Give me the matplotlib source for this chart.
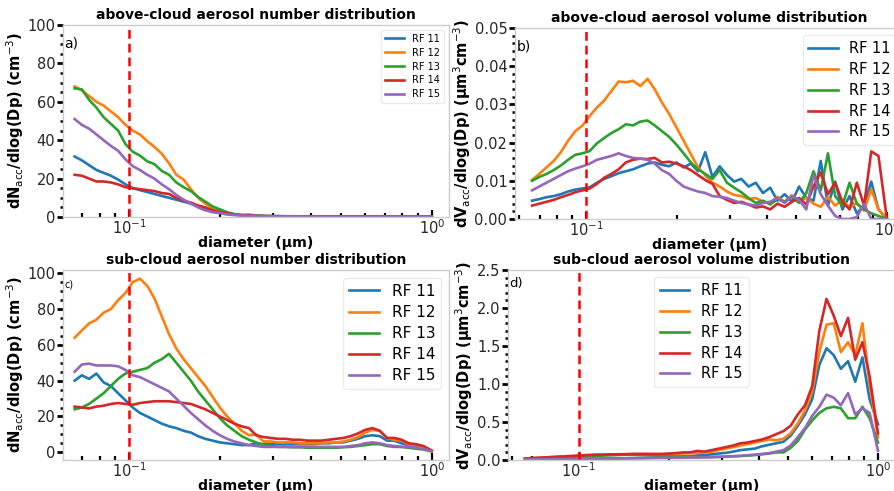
import matplotlib
matplotlib.use("Agg")
import matplotlib.pyplot as plt
from matplotlib.ticker import AutoMinorLocator

# bin diameters (um)
dp = [0.0661, 0.0698, 0.0738, 0.0780, 0.0824, 0.0871, 0.0920, 0.0973, 0.1028, 0.1086,
      0.1148, 0.1213, 0.1282, 0.1355, 0.1432, 0.1514, 0.1600, 0.1690, 0.1786, 0.1888,
      0.1995, 0.2109, 0.2228, 0.2355, 0.2489, 0.2630, 0.2780, 0.2938, 0.3105, 0.3281,
      0.3467, 0.3664, 0.3873, 0.4093, 0.4325, 0.4571, 0.4831, 0.5105, 0.5395, 0.5702,
      0.6026, 0.6368, 0.6730, 0.7112, 0.7516, 0.7943, 0.8395, 0.8872, 0.9376, 1.0]

flights = ["RF 11", "RF 12", "RF 13", "RF 14", "RF 15"]

# a) above-cloud number
num_above_rf11 = [31.5, 29.5, 27, 24.5, 23, 21.5, 19.5, 17, 15, 14, 13, 12, 11, 10, 9, 8, 7, 5.5, 4.5, 3.5,
                  2.5, 1.8, 1.3, 1, 1.2, 0.8, 0.6, 0.5, 0.5, 0.4, 0.4, 0.3, 0.3, 0.3, 0.3, 0.2, 0.2, 0.2, 0.2, 0.2,
                  0.2, 0.2, 0.2, 0.2, 0.1, 0.1, 0.1, 0.1, 0.1, 0.1]
num_above_rf12 = [68, 66, 63, 60, 58, 55, 52, 48, 45, 43, 39.5, 36.5, 33, 28, 22, 19.5, 14.5, 10, 7, 4.5,
                  3, 2, 1.3, 1, 0.7, 0.5, 0.4, 0.4, 0.3, 0.3, 0.3, 0.3, 0.2, 0.2, 0.2, 0.2, 0.2, 0.2, 0.2, 0.2,
                  0.2, 0.2, 0.2, 0.2, 0.1, 0.1, 0.1, 0.1, 0.1, 0.1]
num_above_rf13 = [67, 66.5, 61, 57, 52, 48.5, 45, 38, 34, 32, 29, 27.5, 24, 22, 18, 15.5, 13.5, 10.5, 8, 5.5,
                  4, 2.5, 1.5, 1, 0.8, 0.6, 0.5, 0.4, 0.4, 0.3, 0.3, 0.3, 0.2, 0.2, 0.2, 0.2, 0.2, 0.2, 0.2, 0.2,
                  0.2, 0.2, 0.2, 0.2, 0.1, 0.1, 0.1, 0.1, 0.1, 0.1]
num_above_rf14 = [22, 21.5, 20, 18.5, 18.5, 18, 17, 15.5, 15, 14.5, 14, 13.5, 12.5, 12, 10, 8.5, 7.5, 6, 5, 3.5,
                  2.5, 1.8, 1.2, 0.9, 0.7, 0.5, 0.4, 0.4, 0.3, 0.3, 0.3, 0.3, 0.2, 0.2, 0.2, 0.2, 0.2, 0.2, 0.2, 0.2,
                  0.2, 0.2, 0.2, 0.2, 0.1, 0.1, 0.1, 0.1, 0.1, 0.1]
num_above_rf15 = [51, 48, 46, 43, 40, 37, 34.5, 30, 26.5, 24.5, 22, 20, 17, 14.5, 11.5, 9, 7, 5, 3.5, 2.5,
                  2, 1.3, 1, 0.8, 0.6, 0.5, 0.4, 0.4, 0.3, 0.3, 0.3, 0.3, 0.2, 0.2, 0.2, 0.2, 0.2, 0.2, 0.2, 0.2,
                  0.2, 0.2, 0.2, 0.2, 0.1, 0.1, 0.1, 0.1, 0.1, 0.1]

# b) above-cloud volume
vol_above_rf11 = [0.0048, 0.0052, 0.0057, 0.006, 0.0065, 0.0072, 0.0077, 0.008, 0.0083, 0.0095,
                  0.0105, 0.0112, 0.012, 0.0125, 0.013, 0.0138, 0.0145, 0.0148, 0.0142, 0.0138,
                  0.0148, 0.0135, 0.0145, 0.0125, 0.0175, 0.011, 0.0138, 0.0115, 0.0098, 0.0105,
                  0.0085, 0.0095, 0.0068, 0.0082, 0.0048, 0.0065, 0.0045, 0.0085, 0.0055, 0.0048,
                  0.0152, 0.0035, 0.0098, 0.0025, 0.006, 0.0015, 0.0035, 0.0098, 0.0025, 0.0]
vol_above_rf12 = [0.0102, 0.0118, 0.0135, 0.0152, 0.0175, 0.0205, 0.023, 0.0245, 0.027, 0.0292,
                  0.031, 0.0335, 0.036, 0.0358, 0.0362, 0.0348, 0.0367, 0.034, 0.0305, 0.0275,
                  0.024, 0.0205, 0.017, 0.0135, 0.0115, 0.0095, 0.0085, 0.0072, 0.0063, 0.006,
                  0.0052, 0.0055, 0.0045, 0.0042, 0.0058, 0.0045, 0.0062, 0.0048, 0.0055, 0.004,
                  0.0032, 0.0058, 0.0035, 0.005, 0.003, 0.0042, 0.0022, 0.0078, 0.0025, 0.0]
vol_above_rf13 = [0.010, 0.011, 0.0118, 0.0128, 0.014, 0.0155, 0.0168, 0.0172, 0.0178, 0.0198,
                  0.0212, 0.0225, 0.0235, 0.0248, 0.0245, 0.0255, 0.0258, 0.0245, 0.023, 0.0215,
                  0.0195, 0.0172, 0.0148, 0.013, 0.0118, 0.0105, 0.0128, 0.0095, 0.0082, 0.007,
                  0.0055, 0.0042, 0.0048, 0.0038, 0.0052, 0.0045, 0.0058, 0.0042, 0.0068, 0.0125,
                  0.0075, 0.0172, 0.006, 0.0035, 0.0095, 0.004, 0.0025, 0.0015, 0.0008, 0.0]
vol_above_rf14 = [0.0035, 0.004, 0.0045, 0.005, 0.0057, 0.0063, 0.007, 0.0075, 0.008, 0.0092,
                  0.0108, 0.0118, 0.013, 0.0148, 0.0155, 0.0158, 0.0157, 0.016, 0.0148, 0.015,
                  0.0145, 0.0138, 0.0128, 0.0115, 0.0102, 0.0092, 0.006, 0.005, 0.0042, 0.0045,
                  0.0038, 0.003, 0.0033, 0.0025, 0.004, 0.0032, 0.0045, 0.0055, 0.0038, 0.0085,
                  0.0122, 0.0065, 0.0095, 0.0045, 0.0025, 0.0095, 0.0035, 0.0177, 0.0165, 0.0]
vol_above_rf15 = [0.0075, 0.0085, 0.0095, 0.0105, 0.0115, 0.0125, 0.0132, 0.0138, 0.0145, 0.0155,
                  0.016, 0.0165, 0.0172, 0.0165, 0.016, 0.0158, 0.0155, 0.0145, 0.0128, 0.0118,
                  0.01, 0.0085, 0.0078, 0.0072, 0.0068, 0.006, 0.0058, 0.0055, 0.0048, 0.0042,
                  0.0038, 0.0035, 0.0042, 0.0045, 0.0055, 0.0042, 0.006, 0.005, 0.0025, 0.0115,
                  0.0065, 0.0035, 0.0008, 0.0, 0.0, 0.0005, 0.004, 0.0, 0.0, 0.0]

# c) sub-cloud number
num_sub_rf11 = [40, 43, 41, 44, 39, 37, 33, 29, 25, 22, 20, 18, 16, 14.5, 13.5, 12, 11, 9, 7.5, 6.5,
                5.5, 5, 4.5, 4, 4, 5, 4.5, 4.5, 4.5, 4.5, 4.5, 4.5, 4.5, 4.5, 5, 5, 5.5, 5.5, 6.5, 7.5,
                9, 9.5, 9, 6.5, 6.5, 5, 4, 3.5, 3, 0.5]
num_sub_rf12 = [64, 68, 72, 74, 78, 80, 85, 89, 95, 97, 93, 86, 76, 66, 58, 52, 47, 42, 37, 31,
                25, 20, 16, 12, 9.5, 10, 6, 6, 5.5, 5.5, 5.5, 5, 5, 5, 5, 5.5, 5.5, 6, 7, 8.5,
                11, 12.5, 12, 8, 7, 6.5, 4.5, 4, 3, 0.5]
num_sub_rf13 = [24, 25, 27, 30, 33, 37, 41, 44, 45, 46, 47, 50, 52, 55, 50, 45, 40, 34, 29, 24,
                19, 15, 12, 9, 7, 5.5, 4, 3.5, 3, 3, 2.8, 2.8, 2.5, 2.5, 2.5, 2.5, 2.5, 2.8, 3, 3.5,
                4, 4.5, 4.5, 3.5, 3, 3, 2.5, 2, 1.5, 0.5]
num_sub_rf14 = [25.5, 25, 24.5, 25.5, 26, 27, 27.5, 27, 26.5, 27.5, 28, 28.5, 28.5, 28.5, 28, 27.5, 27, 25.5, 24, 22,
                20, 18, 16, 14.5, 13.5, 9.5, 8.5, 8, 7.5, 7.5, 7, 7, 6.5, 6.5, 6.5, 7, 7.5, 8, 9, 10.5,
                12.5, 13.5, 12, 8, 8, 7, 5, 4.5, 3.5, 1]
num_sub_rf15 = [45, 49, 49.5, 48.5, 48.5, 48.5, 48, 46, 43, 42, 40, 38, 36, 34, 30, 26, 22, 18.5, 15, 12,
                9.5, 7.5, 6, 5, 4, 3.5, 3, 3, 3, 3, 3, 3, 3, 3, 3, 3, 3, 3, 3.5, 4,
                5, 5.5, 5, 4, 3.5, 3, 3, 2.5, 2, 0.5]

# d) sub-cloud volume
vol_sub_rf11 = [0.008, 0.009, 0.01, 0.011, 0.012, 0.013, 0.014, 0.015, 0.016, 0.017,
                0.018, 0.019, 0.02, 0.021, 0.022, 0.024, 0.026, 0.028, 0.03, 0.033,
                0.036, 0.04, 0.045, 0.05, 0.06, 0.065, 0.075, 0.085, 0.095, 0.11,
                0.13, 0.14, 0.15, 0.18, 0.2, 0.22, 0.24, 0.32, 0.45, 0.6,
                0.8, 1.25, 1.47, 1.38, 1.2, 1.3, 1.03, 1.35, 0.8, 0.47]
vol_sub_rf12 = [0.02, 0.025, 0.03, 0.035, 0.04, 0.045, 0.05, 0.055, 0.062, 0.066,
                0.07, 0.072, 0.075, 0.075, 0.078, 0.078, 0.078, 0.076, 0.075, 0.075,
                0.075, 0.08, 0.085, 0.09, 0.09, 0.1, 0.11, 0.13, 0.15, 0.17,
                0.19, 0.21, 0.23, 0.25, 0.27, 0.26, 0.28, 0.35, 0.48, 0.65,
                0.9, 1.42, 1.78, 1.8, 1.42, 1.55, 1.38, 1.8, 1.0, 0.3]
vol_sub_rf13 = [0.01, 0.012, 0.015, 0.018, 0.022, 0.027, 0.032, 0.038, 0.043, 0.048,
                0.053, 0.058, 0.062, 0.066, 0.068, 0.068, 0.066, 0.062, 0.058, 0.055,
                0.05, 0.046, 0.044, 0.042, 0.04, 0.04, 0.04, 0.042, 0.044, 0.048,
                0.052, 0.058, 0.065, 0.075, 0.085, 0.1, 0.1, 0.16, 0.25, 0.4,
                0.52, 0.62, 0.68, 0.7, 0.68, 0.55, 0.55, 0.7, 0.55, 0.23]
vol_sub_rf14 = [0.02, 0.025, 0.03, 0.035, 0.04, 0.045, 0.05, 0.055, 0.06, 0.065,
                0.07, 0.07, 0.075, 0.075, 0.075, 0.08, 0.08, 0.08, 0.08, 0.08,
                0.085, 0.09, 0.1, 0.1, 0.12, 0.11, 0.13, 0.15, 0.17, 0.19,
                0.22, 0.23, 0.25, 0.27, 0.3, 0.34, 0.38, 0.45, 0.6, 0.72,
                0.97, 1.7, 2.12, 1.9, 1.63, 1.87, 1.32, 1.55, 1.1, 0.35]
vol_sub_rf15 = [0.008, 0.009, 0.01, 0.011, 0.012, 0.013, 0.014, 0.015, 0.016, 0.017,
                0.018, 0.019, 0.02, 0.021, 0.022, 0.023, 0.024, 0.025, 0.026, 0.027,
                0.028, 0.029, 0.03, 0.031, 0.032, 0.034, 0.036, 0.04, 0.045, 0.05,
                0.055, 0.062, 0.07, 0.08, 0.09, 0.11, 0.13, 0.19, 0.3, 0.42,
                0.58, 0.7, 0.86, 0.82, 0.72, 0.88, 0.6, 0.68, 0.62, 0.12]

num_above = [num_above_rf11, num_above_rf12, num_above_rf13, num_above_rf14, num_above_rf15]
vol_above = [vol_above_rf11, vol_above_rf12, vol_above_rf13, vol_above_rf14, vol_above_rf15]
num_sub = [num_sub_rf11, num_sub_rf12, num_sub_rf13, num_sub_rf14, num_sub_rf15]
vol_sub = [vol_sub_rf11, vol_sub_rf12, vol_sub_rf13, vol_sub_rf14, vol_sub_rf15]

num_label = r"dN$_{\mathrm{acc}}$/dlog(Dp) (cm$^{-3}$)"
vol_label = r"dV$_{\mathrm{acc}}$/dlog(Dp) ($\mathbf{\mu}$m$^3$cm$^{-3}$)"

W, H = 894, 491
fig = plt.figure(figsize=(W / 100, H / 100), dpi=100)


def box(l, r, t, b):
    return [l / W, (H - b) / H, (r - l) / W, (b - t) / H]


panels = [
    # position, data, title, ylabel, ylim, xmin, tag, tag size, tag y, legend size, legend loc
    (box(63, 449, 25, 217), num_above, "above-cloud aerosol number distribution", num_label,
     (0, 100), 0.0605, "a)", 10, 0.94, 7, "upper right"),
    (box(515, 904, 28, 219), vol_above, "above-cloud aerosol volume distribution", vol_label,
     (0, 0.05), 0.058, "b)", 10, 0.94, 10.5, "upper right"),
    (box(63, 449, 270, 460), num_sub, "sub-cloud aerosol number distribution", num_label,
     None, 0.0605, "c)", 7, 0.95, 11, "upper right"),
    (box(508, 895, 270, 460), vol_sub, "sub-cloud aerosol volume distribution", vol_label,
     (0, 2.5), 0.058, "d)", 9.5, 0.965, 10.5, "upper center"),
]

for pos, series, title, ylabel, ylim, xmin, tag, tagsize, tagy, legsize, legloc in panels:
    ax = fig.add_axes(pos)
    for vals, name in zip(series, flights):
        ax.plot(dp, vals, lw=1.9, label=name)
    ax.set_xscale("log")
    ax.set_xlim(xmin, 1.14)
    if ylim is not None:
        ax.set_ylim(*ylim)
    ax.axvline(0.1, color="red", ls="--", lw=1.8, dashes=(3.5, 2))
    ax.set_title(title, fontsize=10, fontweight="bold", pad=4)
    ax.set_xlabel("diameter (μm)", fontsize=10.2, fontweight="bold", labelpad=-1)
    ax.set_ylabel(ylabel, fontsize=10.5, fontweight="bold", labelpad=1)
    ax.yaxis.set_minor_locator(AutoMinorLocator())
    ax.tick_params(axis="y", which="major", direction="out", length=4.5, width=2, labelsize=10.5,
                   labelcolor="#262626", pad=1)
    ax.tick_params(axis="y", which="minor", direction="out", length=2.5, width=1.8)
    ax.tick_params(axis="x", which="major", direction="in", length=5, width=1.6, labelsize=10.5,
                   labelcolor="#262626", pad=1)
    ax.tick_params(axis="x", which="minor", direction="in", length=3, width=1.6)
    for s in ax.spines.values():
        s.set_color("#cccccc")
        s.set_linewidth(1)
    ax.text(0.004, tagy, tag, transform=ax.transAxes, fontsize=tagsize, va="top", ha="left")
    ax.legend(loc=legloc, fontsize=legsize, handlelength=2, borderpad=0.4, labelspacing=0.4,
              edgecolor="#e6e6e6")

fig.savefig("out.png", dpi=100)
